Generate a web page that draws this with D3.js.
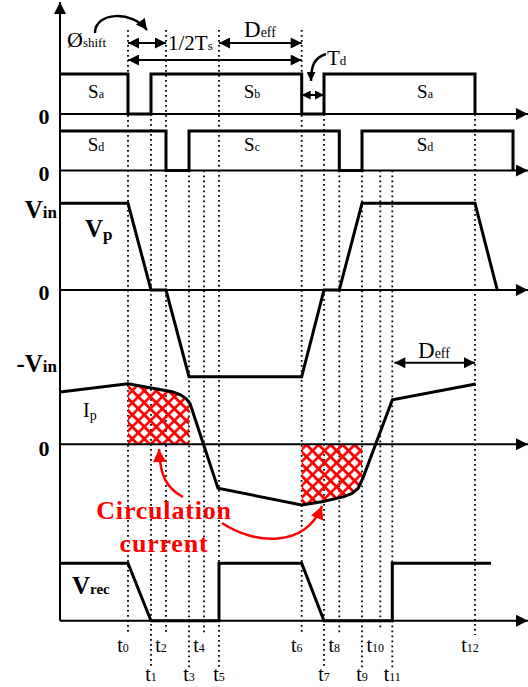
<!DOCTYPE html>
<html>
<head>
<meta charset="utf-8">
<script src="https://cdn.jsdelivr.net/npm/d3@7"></script>
<style>
  body { margin: 0; background: #fff; }
  svg text { font-family: "Liberation Serif", "Times New Roman", serif; }
</style>
</head>
<body>
<svg id="chart" width="528" height="687"></svg>
<script>
// switching instants t0..t12, time measured from t0
var tickNames = ["0", "1", "2", "3", "4", "5", "6", "7", "8", "9", "10", "11", "12"];
var tickTimes = [0, 23, 38, 61, 76, 91, 173.7, 196, 211.3, 234, 252.3, 264.3, 347];
var timeDomain = [-68, 400];

// gate signals [time, state]
var gateA = [[-68, 1], [0, 0], [23, 1], [173.7, 0], [196, 1], [347, 0]];
var gateD = [[-68, 1], [38, 0], [61, 1], [211.3, 0], [234, 1], [385, 0]];
var gateALabels = [["S", "a", -32], ["S", "b", 124], ["S", "a", 297]];
var gateDLabels = [["S", "d", -32], ["S", "c", 124], ["S", "d", 297]];

// primary voltage, per unit of Vin
var vp = [[-68, 1], [0, 1], [23, 0], [38, 0], [61, -1], [173.7, -1], [196, 0],
          [211.3, 0], [234, 1], [347, 1], [369.3, 0]];

// primary current, per unit of its peak
var ip = [[-68, 0.87], [0, 1.01], [44, 0.877], [52, 0.83], [58, 0.763], [62, 0.68],
          [90, -0.733], [173.7, -1.01], [194, -0.957], [216, -0.873], [224, -0.82],
          [230, -0.737], [235, -0.56], [264.3, 0.74], [347.7, 1.005]];
// circulation current intervals (tick indices)
var circulation = [[0, 3], [6, 9]];

// rectifier voltage, per unit
var vrec = [[-68, 1], [0, 1], [23, 0], [91, 0], [91, 1], [173.7, 1], [196, 0],
            [264.3, 0], [264.3, 1], [363, 1]];

var svg = d3.select("#chart");
var defs = svg.append("defs");

var x = d3.scaleLinear().domain(timeDomain).range([60, 528]);
var yA = d3.scaleLinear().domain([0, 1]).range([114, 74]);
var yD = d3.scaleLinear().domain([0, 1]).range([170.5, 131]);
var yVp = d3.scaleLinear().domain([-1, 1]).range([376.7, 203.3]);
var yIp = d3.scaleLinear().domain([-1, 1]).range([504.3, 384.3]);
var yRec = d3.scaleLinear().domain([0, 1]).range([620.7, 563.3]);

function marker(id, w, h, color) {
    defs.append("marker")
        .attr("id", id)
        .attr("viewBox", "0 0 10 10")
        .attr("refX", 10).attr("refY", 5)
        .attr("markerWidth", w).attr("markerHeight", h)
        .attr("markerUnits", "userSpaceOnUse")
        .attr("orient", "auto-start-reverse")
        .append("path")
        .attr("d", "M0,0L10,5L0,10z")
        .attr("fill", color);
}
marker("axisHead", 14, 12, "#000");
marker("bigHead", 13, 11, "#000");
marker("smallHead", 9, 9, "#000");
marker("redHead", 14, 13, "#f00");

var pat = defs.append("pattern")
    .attr("id", "hatch")
    .attr("patternUnits", "userSpaceOnUse")
    .attr("width", 8.5).attr("height", 8.5)
    .attr("patternTransform", "rotate(45)");
pat.append("path")
    .attr("d", "M0,4.25H8.5M4.25,0V8.5")
    .attr("stroke", "#f00")
    .attr("stroke-width", 2.6);

// dotted time markers
var dotTop = function(i) {
    if ([0, 2, 5, 6].indexOf(i) >= 0) return 30;
    if ([1, 7, 12].indexOf(i) >= 0) return yA(0);
    return yD(0);
};
var dotBottom = function(i) {
    if (i === 10) return 630;
    return i % 2 === 0 ? 635 : 668;
};
svg.append("g").selectAll("line")
    .data(tickTimes)
    .join("line")
    .attr("x1", function(d) { return x(d); })
    .attr("x2", function(d) { return x(d); })
    .attr("y1", function(d, i) { return dotTop(i); })
    .attr("y2", function(d, i) { return dotBottom(i); })
    .attr("stroke", "#000")
    .attr("stroke-width", 1.8)
    .attr("stroke-dasharray", "1.8,3.2");

// hatched circulation current areas
var ipArea = d3.area()
    .x(function(d) { return x(d[0]); })
    .y0(yIp(0))
    .y1(function(d) { return yIp(d[1]); });
circulation.forEach(function(span, k) {
    defs.append("clipPath").attr("id", "clip" + k)
        .append("rect")
        .attr("x", x(tickTimes[span[0]]))
        .attr("width", x(tickTimes[span[1]]) - x(tickTimes[span[0]]))
        .attr("y", 0).attr("height", 687);
    svg.append("path")
        .datum(ip)
        .attr("d", ipArea)
        .attr("fill", "url(#hatch)")
        .attr("clip-path", "url(#clip" + k + ")");
});

// axes
var axisG = svg.append("g").attr("stroke", "#000").attr("stroke-width", 2);
axisG.append("line")
    .attr("x1", x(timeDomain[0])).attr("x2", x(timeDomain[0]))
    .attr("y1", yRec(0)).attr("y2", 2)
    .attr("marker-end", "url(#axisHead)");
[yA(0), yD(0), yVp(0), yIp(0), yRec(0)].forEach(function(y0) {
    axisG.append("line")
        .attr("x1", x(timeDomain[0])).attr("x2", x(timeDomain[1]))
        .attr("y1", y0).attr("y2", y0)
        .attr("marker-end", "url(#axisHead)");
});

// waveforms
function trace(data, yScale, curve) {
    var line = d3.line()
        .x(function(d) { return x(d[0]); })
        .y(function(d) { return yScale(d[1]); })
        .curve(curve || d3.curveLinear);
    svg.append("path")
        .datum(data)
        .attr("d", line)
        .attr("fill", "none")
        .attr("stroke", "#000")
        .attr("stroke-width", 3)
        .attr("stroke-linejoin", "miter");
}
trace(gateA, yA, d3.curveStepAfter);
trace(gateD, yD, d3.curveStepAfter);
trace(vp, yVp);
trace(ip, yIp);
trace(vrec, yRec);

// text helper: main text with a smaller subscript
function label(px, py, main, sub, opt) {
    opt = opt || {};
    var t = svg.append("text")
        .attr("x", px).attr("y", py)
        .attr("text-anchor", opt.anchor || "start")
        .attr("font-size", opt.size || 20)
        .attr("font-weight", opt.bold ? "bold" : "normal")
        .attr("fill", opt.color || "#000");
    t.append("tspan").text(main);
    if (sub) {
        t.append("tspan")
            .attr("font-size", opt.subSize || 13)
            .attr("dy", opt.subDy || 0)
            .text(sub);
    }
    return t;
}

gateALabels.forEach(function(d) {
    label(x(d[2]), 98, d[0], d[1], { anchor: "middle", size: 19, subSize: 12 });
});
gateDLabels.forEach(function(d) {
    label(x(d[2]), 151, d[0], d[1], { anchor: "middle", size: 19, subSize: 12 });
});

// level labels
[yA(0), yD(0), yVp(0)].forEach(function(y0) {
    label(44, y0 + 10, "0", null, { anchor: "middle", size: 22, bold: true });
});
label(44, yIp(0) + 12, "0", null, { anchor: "middle", size: 22, bold: true });
label(57, yVp(1) + 15, "V", "in", { anchor: "end", size: 25, subSize: 17, bold: true });
label(57, yVp(-1) - 5, "-V", "in", { anchor: "end", size: 25, subSize: 17, bold: true });
label(85, 237, "V", "p", { size: 25, subSize: 17, bold: true, subDy: 3 });
label(83, 417, "I", "p", { size: 20, subSize: 14, subDy: 3 });
label(72, 594, "V", "rec", { size: 25, subSize: 15, bold: true });

// time labels
tickTimes.forEach(function(d, i) {
    var even = i % 2 === 0;
    label(x(d) + (even ? -5 : 0), even ? 652 : 681, "t", tickNames[i],
        { anchor: "middle", size: 20, subSize: 12 });
});

// annotation arrows
function arrow(x1, y1, x2, y2, head, both) {
    svg.append("line")
        .attr("x1", x1).attr("y1", y1).attr("x2", x2).attr("y2", y2)
        .attr("stroke", "#000").attr("stroke-width", 2)
        .attr("marker-end", "url(#" + head + ")")
        .attr("marker-start", both ? "url(#" + head + ")" : null);
}
arrow(x(tickTimes[0]), 43, x(tickTimes[2]), 43, "bigHead", true);
arrow(x(tickTimes[5]), 43, x(tickTimes[6]), 43, "bigHead", true);
arrow(x(tickTimes[0]), 60, x(tickTimes[6]), 60, "bigHead", true);
arrow(x(tickTimes[6]), 95, x(tickTimes[7]), 95, "smallHead", true);
arrow(x(tickTimes[11]) + 2, 362.7, x(tickTimes[12]), 362.7, "bigHead", true);

svg.append("path")
    .attr("d", "M95,33C95,12 132,10 147,30")
    .attr("fill", "none").attr("stroke", "#000").attr("stroke-width", 2.5)
    .attr("marker-end", "url(#bigHead)");
svg.append("path")
    .attr("d", "M326,54C314,58 311,66 311,81")
    .attr("fill", "none").attr("stroke", "#000").attr("stroke-width", 2.5)
    .attr("marker-end", "url(#smallHead)");

label(67, 47, "Ø", "shift", { size: 22, subSize: 13 });
label(168, 50, "1/2T", "s", { size: 21, subSize: 13 });
label(244, 37, "D", "eff", { size: 23, subSize: 14 });
label(327, 65, "T", "d", { size: 21, subSize: 13 });
label(434, 358, "D", "eff", { anchor: "middle", size: 23, subSize: 14 });

// circulation current callout
label(164, 519, "Circulation", null, { anchor: "middle", size: 26, bold: true, color: "#f00" })
    .attr("letter-spacing", 0.8);
label(164, 552, "current", null, { anchor: "middle", size: 26, bold: true, color: "#f00" })
    .attr("letter-spacing", 0.8);
svg.append("path")
    .attr("d", "M183,497C166,488 160,475 159,449")
    .attr("fill", "none").attr("stroke", "#f00").attr("stroke-width", 2.5)
    .attr("marker-end", "url(#redHead)");
svg.append("path")
    .attr("d", "M222,523C255,545 305,548 322,506")
    .attr("fill", "none").attr("stroke", "#f00").attr("stroke-width", 2.5)
    .attr("marker-end", "url(#redHead)");
</script>
</body>
</html>
